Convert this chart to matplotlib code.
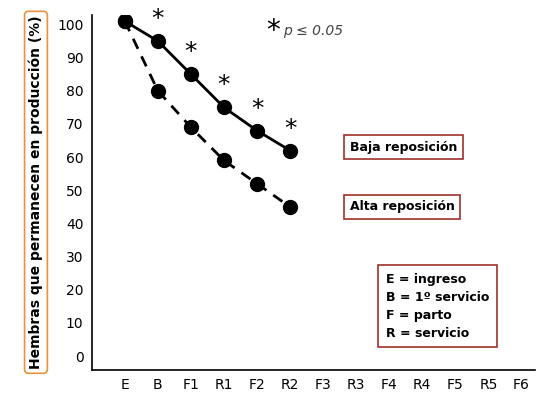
import matplotlib
matplotlib.use("Agg")
import matplotlib.pyplot as plt

cats = ["E","B","F1","R1","F2","R2","F3","R3","F4","R4","F5","R5","F6"]
baja = [101, 95, 85, 75, 68, 62]
alta = [101, 80, 69, 59, 52, 45]
yticks = [0,10,20,30,40,50,60,70,80,90,100]

fig = plt.figure(figsize=(5.4,4.04), dpi=100)
ax = fig.add_axes([0.17,0.084,0.82,0.88])
x = list(range(len(cats)))
ax.plot(x[:6], baja, '-', color='black', lw=2, marker='o', ms=10)
ax.plot(x[:6], alta, '--', color='black', lw=2, marker='o', ms=10, dashes=(4,3))
for i in range(1,6):
    ax.text(i, baja[i]+3, '*', ha='center', va='bottom', fontsize=18)
ax.set_xlim(-1, 12.4)
ax.set_ylim(-4.2, 103)
ax.set_xticks(x); ax.set_xticklabels(cats, fontsize=10)
ax.set_yticks(yticks); ax.tick_params(labelsize=10, length=0, pad=6)
for s in ['top','right']: ax.spines[s].set_visible(False)
ax.spines['left'].set_linewidth(1.2); ax.spines['bottom'].set_linewidth(1.2)
ax.set_ylabel('Hembras que permanecen en producción (%)', fontsize=10, fontweight='bold',
              bbox=dict(boxstyle='round,pad=0.3', fc='white', ec='#E8923A', lw=1.2), labelpad=10)
ax.text(4.5, 98, '*', fontsize=20, ha='center', va='center')
ax.text(4.8, 98, 'p ≤ 0.05', fontsize=10, style='italic', color='#444444', va='center')
bx = dict(boxstyle='square,pad=0.45', fc='white', ec='#A0302A', lw=1.2)
ax.text(6.8, 63, 'Baja reposición', fontsize=9, fontweight='bold', va='center', bbox=bx)
ax.text(6.8, 45, 'Alta reposición', fontsize=9, fontweight='bold', va='center', bbox=dict(bx, pad=0.55))
ax.text(7.9, 15, 'E = ingreso\nB = 1º servicio\nF = parto\nR = servicio', fontsize=9,
        fontweight='bold', va='center', linespacing=1.5,
        bbox=dict(boxstyle='square,pad=0.6', fc='white', ec='#A0302A', lw=1.2))
fig.savefig('out.png', dpi=100)
